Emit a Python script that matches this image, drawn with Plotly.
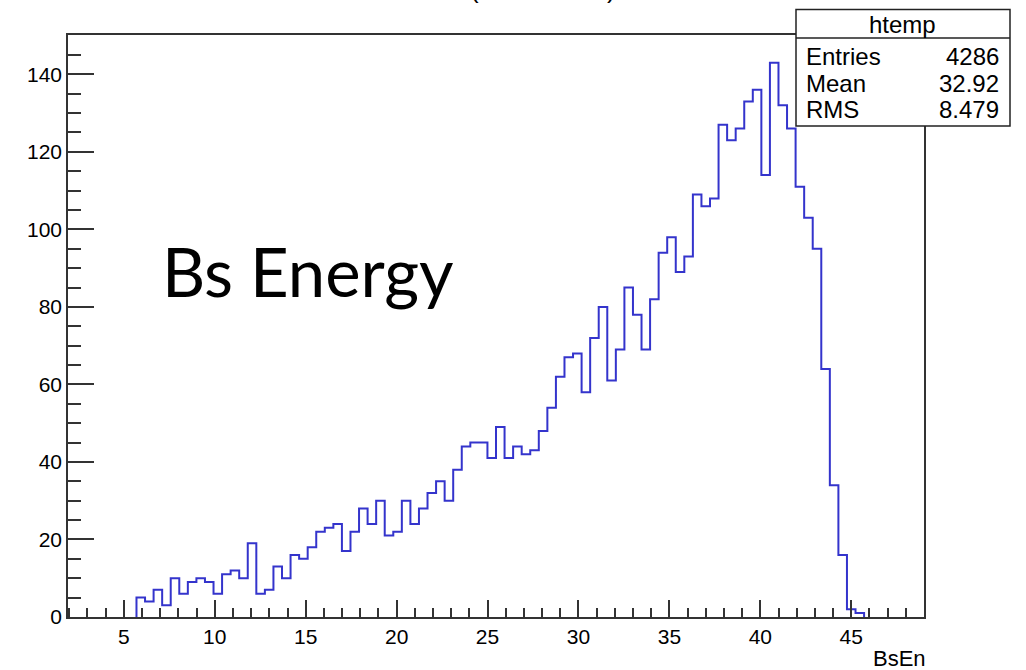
import numpy as np
import plotly.graph_objects as go

# ---------------- data ----------------
X_MIN = 1.93
X_MAX = 49.0
N_BINS = 100
counts = [
    0, 0, 0, 0, 0, 0, 0, 0,
    5, 4, 7, 3, 10, 6, 9, 10, 9, 6,
    11, 12, 10, 19, 6, 7, 13, 10, 16, 15,
    18, 22, 23, 24, 17, 22, 28, 24, 30, 21,
    22, 30, 24, 28, 32, 35, 30, 38, 44, 45,
    45, 41, 49, 41, 44, 42, 43, 48, 54, 62,
    67, 68, 58, 72, 80, 61, 69, 85, 78, 69,
    82, 94, 98, 89, 93, 109, 106, 108, 127, 123,
    126, 133, 136, 114, 143, 132, 126, 111, 103, 95,
    64, 34, 16, 2, 1,
    0, 0, 0, 0, 0, 0, 0,
]
x_tick_vals = [5, 10, 15, 20, 25, 30, 35, 40, 45]
y_tick_vals = [0, 20, 40, 60, 80, 100, 120, 140]
stats_title = "htemp"
stats_names = ["Entries", "Mean", "RMS"]
stats_values = ["4286", "32.92", "8.479"]
x_title = "BsEn"
overlay_text = "Bs Energy"

# ---------------- geometry ----------------
W, H = 1026, 670
ML, MR, MT, MB = 68, 102, 35, 53
PW, PH = W - ML - MR, H - MT - MB


def px(xp):
    return (xp - ML) / PW


def py(yp):
    return (H - MB - yp) / PH


edges = np.linspace(X_MIN, X_MAX, N_BINS + 1)
nz = [i for i, c in enumerate(counts) if c > 0]
f, l = nz[0], nz[-1]
xs = [edges[f]] + [edges[i] for i in range(f, l + 1)] + [edges[l + 1]]
ys = [0] + [counts[i] for i in range(f, l + 1)] + [0]

Y_MAX = max(counts) * 1.05

AX = "#333333"
FONT = "Liberation Sans, Arial, Helvetica, sans-serif"

fig = go.Figure()
fig.add_trace(go.Scatter(
    x=xs, y=ys, mode="lines", line=dict(shape="hv", color="#3434cc", width=2),
    hoverinfo="skip", showlegend=False,
))

fig.update_layout(
    width=W, height=H,
    margin=dict(l=ML, r=MR, t=MT, b=MB),
    paper_bgcolor="white", plot_bgcolor="white",
    showlegend=False,
    font=dict(family=FONT, color="black", size=21),
)
fig.update_xaxes(
    range=[X_MIN, X_MAX], tickmode="array", tickvals=x_tick_vals,
    ticks="inside", ticklen=17, tickwidth=1.5, tickcolor=AX,
    minor=dict(ticks="inside", ticklen=9, tickwidth=1.5, tickcolor=AX,
               tickmode="linear", tick0=0, dtick=1),
    showline=True, linecolor=AX, linewidth=1.5, mirror=True,
    showgrid=False, zeroline=False,
    tickfont=dict(family=FONT, size=21, color="black"),
)
fig.update_yaxes(
    range=[0, Y_MAX], tickmode="array", tickvals=y_tick_vals,
    ticks="inside", ticklen=26, tickwidth=1.5, tickcolor=AX,
    minor=dict(ticks="inside", ticklen=13, tickwidth=1.5, tickcolor=AX,
               tickmode="linear", tick0=0, dtick=5),
    showline=True, linecolor=AX, linewidth=1.5, mirror=True,
    showgrid=False, zeroline=False,
    tickfont=dict(family=FONT, size=21, color="black"),
)

# stats box
fig.add_shape(type="rect", xref="paper", yref="paper",
              x0=px(796), x1=px(1010), y0=py(126), y1=py(9.5),
              line=dict(color="#222222", width=1.5), fillcolor="white", layer="above")
fig.add_shape(type="line", xref="paper", yref="paper",
              x0=px(796), x1=px(1010), y0=py(38), y1=py(38),
              line=dict(color="#222222", width=1.5), layer="above")

ann = []
ann.append(dict(text=stats_title, x=px(902), y=py(24), xanchor="center", yanchor="middle"))
rows_y = [57, 83, 109]
for name, val, yy in zip(stats_names, stats_values, rows_y):
    ann.append(dict(text=name, x=px(805), y=py(yy), xanchor="left", yanchor="middle"))
    ann.append(dict(text=val, x=px(1000), y=py(yy), xanchor="right", yanchor="middle"))
for a in ann:
    a.update(xref="paper", yref="paper", showarrow=False,
             font=dict(family=FONT, size=24, color="black"), borderpad=0)
    fig.add_annotation(**a)

# x-axis title
fig.add_annotation(text=x_title, xref="paper", yref="paper", x=px(927), y=py(658),
                   xanchor="right", yanchor="middle", showarrow=False, borderpad=0,
                   font=dict(family=FONT, size=22, color="black"))

# partially hidden histogram title (only bottoms of brackets visible at the top edge)
for ch, xp in (("(", 474), (")", 611)):
    fig.add_annotation(text=ch, xref="paper", yref="paper", x=px(xp), y=py(-11),
                       xanchor="center", yanchor="middle", showarrow=False, borderpad=0,
                       font=dict(family=FONT, size=26, color="black"))

# overlay label
fig.add_annotation(text=overlay_text, xref="paper", yref="paper", x=px(161), y=py(271),
                   xanchor="left", yanchor="middle", showarrow=False, borderpad=0,
                   font=dict(family="Lato, Open Sans, sans-serif", size=67, color="black"))

fig.write_html("out.html")
